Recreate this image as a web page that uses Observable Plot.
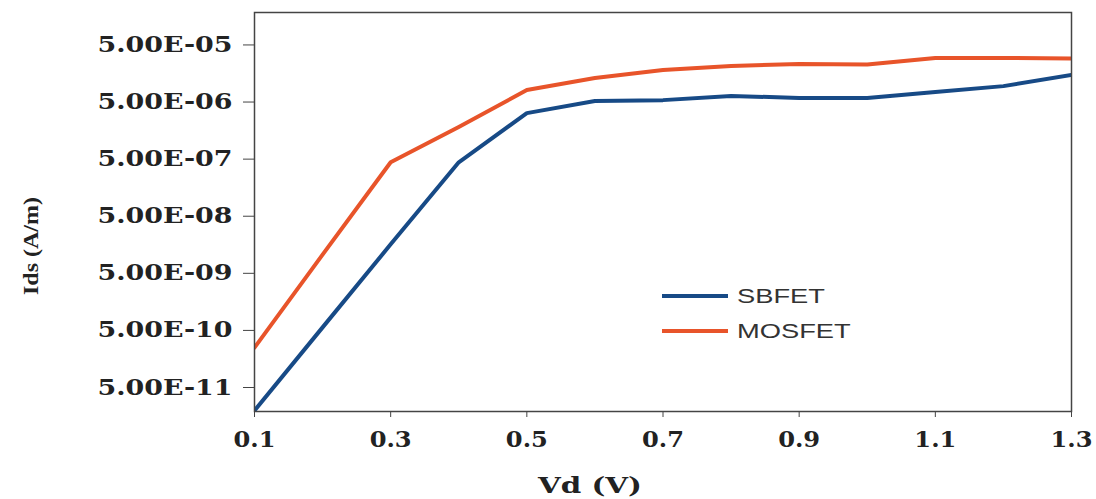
<!DOCTYPE html>
<html>
<head>
<meta charset="utf-8">
<script src="https://cdn.jsdelivr.net/npm/d3@7"></script>
<script src="https://cdn.jsdelivr.net/npm/@observablehq/plot@0.6"></script>
<style>
  html, body { margin: 0; padding: 0; background: #fff; }
  #wrap { position: relative; width: 1096px; height: 499px; }
  #legend { position: absolute; left: 662px; top: 278px; font-family: "Liberation Sans", Arial, sans-serif; font-size: 21px; color: #333; }
  #legend .row { display: flex; align-items: center; height: 35px; }
  #legend .sw { width: 66px; height: 4px; margin-right: 9px; flex: none; }
  #legend span { display: inline-block; transform: scaleX(1.3); transform-origin: left center; }
</style>
</head>
<body>
<div id="wrap"><div id="legend"></div></div>
<script>
const vd = [0.1, 0.2, 0.3, 0.4, 0.5, 0.6, 0.7, 0.8, 0.9, 1.0, 1.1, 1.2, 1.3];
const sbfet  = [1.97e-11, 5.65e-10, 1.61e-8, 4.4e-7, 3.2e-6, 5.2e-6, 5.4e-6, 6.4e-6, 5.9e-6, 5.9e-6, 7.5e-6, 9.5e-6, 1.49e-5];
const mosfet = [2.5e-10, 1.06e-8, 4.4e-7, 1.82e-6, 8.1e-6, 1.32e-5, 1.82e-5, 2.14e-5, 2.32e-5, 2.27e-5, 2.96e-5, 2.96e-5, 2.9e-5];
const seriesNames = ["SBFET", "MOSFET"];
const seriesColors = ["#174a86", "#e8542a"];
const xTicks = [0.1, 0.3, 0.5, 0.7, 0.9, 1.1, 1.3];
const yTicks = [5e-5, 5e-6, 5e-7, 5e-8, 5e-9, 5e-10, 5e-11];
const yTickLabels = ["5.00E-05", "5.00E-06", "5.00E-07", "5.00E-08", "5.00E-09", "5.00E-10", "5.00E-11"];

const rows = [];
vd.forEach((x, i) => {
  rows.push({vd: x, ids: sbfet[i], s: seriesNames[0]});
  rows.push({vd: x, ids: mosfet[i], s: seriesNames[1]});
});
const yLabelRows = yTicks.map((v, i) => ({v, t: yTickLabels[i]}));

const chart = Plot.plot({
  width: 1096,
  height: 499,
  marginLeft: 254,
  marginRight: 25,
  marginTop: 12,
  marginBottom: 88,
  style: {fontFamily: "'DejaVu Serif', serif", background: "#fff"},
  x: {domain: [0.1, 1.3], label: null},
  y: {type: "log", domain: [1.9e-11, 1.85e-4], label: null},
  color: {domain: seriesNames, range: seriesColors},
  marks: [
    Plot.line(rows, {x: "vd", y: "ids", stroke: "s", z: "s", strokeWidth: 4, clip: true}),
    Plot.frame({stroke: "#444", strokeWidth: 1.5}),
    Plot.axisY({ticks: yTicks, tickFormat: () => "", tickSize: 11, stroke: "#444", label: null}),
    Plot.text(yLabelRows, {y: "v", text: "t", frameAnchor: "left", textAnchor: "end", dx: -22, fontSize: 22, fontWeight: "bold", fill: "#222"}),
    Plot.axisX({ticks: xTicks, tickFormat: d => d.toFixed(1), tickSize: 6, tickPadding: 14, fontSize: 22, fontWeight: "bold", fill: "#222", stroke: "#444", label: null}),
  ]
});
chart.style.position = "absolute";
chart.style.left = "0";
chart.style.top = "0";
chart.style.overflow = "visible";

const svg = d3.select(chart);
svg.append("text")
  .attr("transform", "translate(33,246) rotate(-90)")
  .attr("text-anchor", "middle")
  .attr("dominant-baseline", "middle")
  .attr("textLength", 98)
  .attr("lengthAdjust", "spacingAndGlyphs")
  .style("font-family", "'Liberation Serif', 'Times New Roman', serif")
  .style("font-weight", "bold")
  .style("font-size", "22px")
  .attr("fill", "#222")
  .text("Ids (A/m)");
svg.append("text")
  .attr("x", 590)
  .attr("y", 487)
  .attr("text-anchor", "middle")
  .attr("dominant-baseline", "middle")
  .attr("textLength", 104)
  .attr("lengthAdjust", "spacingAndGlyphs")
  .style("font-family", "'DejaVu Serif', serif")
  .style("font-weight", "bold")
  .style("font-size", "22px")
  .attr("fill", "#222")
  .text("Vd (V)");

const wrap = document.getElementById("wrap");
wrap.insertBefore(chart, wrap.firstChild);

// horizontally stretch tick labels to match the reference's wide lettering
svg.selectAll("text").each(function() {
  const s = this.textContent.trim();
  if (/^5\.00E-\d\d$/.test(s)) {
    this.setAttribute("textLength", 135);
    this.setAttribute("lengthAdjust", "spacingAndGlyphs");
  } else if (/^\d\.\d$/.test(s)) {
    this.setAttribute("textLength", 42);
    this.setAttribute("lengthAdjust", "spacingAndGlyphs");
  }
});

const legend = document.getElementById("legend");
seriesNames.forEach((n, i) => {
  const row = document.createElement("div");
  row.className = "row";
  const sw = document.createElement("div");
  sw.className = "sw";
  sw.style.background = seriesColors[i];
  const t = document.createElement("span");
  t.textContent = n;
  row.appendChild(sw);
  row.appendChild(t);
  legend.appendChild(row);
});
</script>
</body>
</html>
